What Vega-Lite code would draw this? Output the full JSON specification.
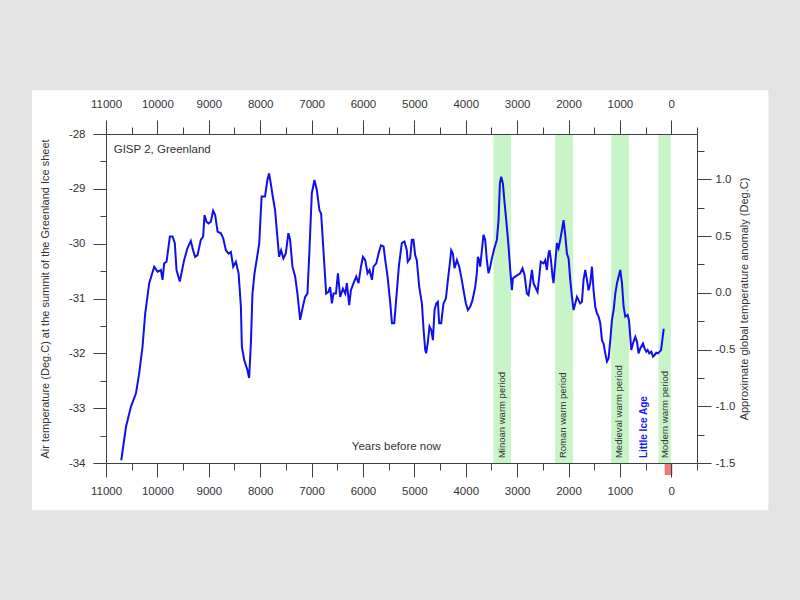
{
  "$schema": "https://vega.github.io/schema/vega-lite/v6.json",
  "width": 591,
  "height": 329,
  "autosize": {"type": "none"},
  "padding": {"left": 106, "top": 134, "right": 103, "bottom": 137},
  "background": "#e3e3e3",
  "config": {
    "view": {"stroke": null},
    "axis": {
      "grid": false,
      "labelFlush": false,
      "labelOverlap": false,
      "domainColor": "#404040",
      "tickColor": "#404040",
      "labelColor": "#333333",
      "labelFont": "Liberation Sans",
      "labelFontSize": 11.5,
      "titleFont": "Liberation Sans",
      "titleFontSize": 11,
      "titleFontWeight": "normal",
      "titleColor": "#333333"
    }
  },
  "datasets": {
    "panel": [{"x0": 12440, "x1": -1890, "y0": -27.2, "y1": -34.86}],
    "periods": [
      {"start": 3460, "end": 3120, "mid": 3290, "label": "Minoan warm period"},
      {"start": 2260, "end": 1910, "mid": 2100, "label": "Roman warm period"},
      {"start": 1170, "end": 820, "mid": 1010, "label": "Medieval warm period"},
      {"start": 250, "end": 10, "mid": 130, "label": "Modern warm period"}
    ],
    "lia": [{"year": 526, "temp": -33.91, "label": "Little Ice Age"}],
    "notes": [
      {"year": 10850, "temp": -28.29, "label": "GISP 2, Greenland", "kind": "left"},
      {"year": 5350, "temp": -33.71, "label": "Years before now", "kind": "center"}
    ],
    "modern": [{"start": 130, "end": -20, "t0": -34, "t1": -34.22}],
    "anomaly": [{"a": -1.5}, {"a": 1.4}],
    "gisp2": [
      {"year": 10703, "temp": -33.95}, {"year": 10611, "temp": -33.34}, {"year": 10514, "temp": -32.97},
      {"year": 10417, "temp": -32.73}, {"year": 10354, "temp": -32.36}, {"year": 10289, "temp": -31.88},
      {"year": 10237, "temp": -31.27}, {"year": 10159, "temp": -30.72}, {"year": 10062, "temp": -30.42},
      {"year": 9997, "temp": -30.51}, {"year": 9932, "temp": -30.48}, {"year": 9900, "temp": -30.66},
      {"year": 9868, "temp": -30.36}, {"year": 9822, "temp": -30.33}, {"year": 9757, "temp": -29.87},
      {"year": 9705, "temp": -29.87}, {"year": 9661, "temp": -29.99}, {"year": 9628, "temp": -30.48},
      {"year": 9564, "temp": -30.69}, {"year": 9480, "temp": -30.30}, {"year": 9414, "temp": -30.08},
      {"year": 9350, "temp": -29.95}, {"year": 9305, "temp": -30.12}, {"year": 9266, "temp": -30.24},
      {"year": 9219, "temp": -30.21}, {"year": 9155, "temp": -29.93}, {"year": 9110, "temp": -29.87},
      {"year": 9083, "temp": -29.48}, {"year": 9044, "temp": -29.60}, {"year": 9005, "temp": -29.63},
      {"year": 8960, "temp": -29.60}, {"year": 8915, "temp": -29.40}, {"year": 8876, "temp": -29.48},
      {"year": 8829, "temp": -29.78}, {"year": 8765, "temp": -29.81}, {"year": 8720, "temp": -29.90},
      {"year": 8667, "temp": -30.12}, {"year": 8615, "temp": -30.18}, {"year": 8570, "temp": -30.15},
      {"year": 8525, "temp": -30.42}, {"year": 8473, "temp": -30.33}, {"year": 8420, "temp": -30.54},
      {"year": 8375, "temp": -31.15}, {"year": 8356, "temp": -31.88}, {"year": 8311, "temp": -32.12},
      {"year": 8250, "temp": -32.30}, {"year": 8215, "temp": -32.45}, {"year": 8180, "temp": -31.80},
      {"year": 8150, "temp": -30.91}, {"year": 8110, "temp": -30.54}, {"year": 8069, "temp": -30.30},
      {"year": 8018, "temp": -29.99}, {"year": 7972, "temp": -29.14}, {"year": 7905, "temp": -29.14},
      {"year": 7860, "temp": -28.84}, {"year": 7827, "temp": -28.72}, {"year": 7794, "temp": -28.90},
      {"year": 7755, "temp": -29.14}, {"year": 7710, "temp": -29.39}, {"year": 7677, "temp": -29.75},
      {"year": 7632, "temp": -30.24}, {"year": 7593, "temp": -30.12}, {"year": 7548, "temp": -30.27},
      {"year": 7502, "temp": -30.18}, {"year": 7451, "temp": -29.81}, {"year": 7417, "temp": -29.93},
      {"year": 7372, "temp": -30.42}, {"year": 7320, "temp": -30.60}, {"year": 7275, "temp": -30.91},
      {"year": 7222, "temp": -31.39}, {"year": 7170, "temp": -31.15}, {"year": 7125, "temp": -30.97},
      {"year": 7080, "temp": -30.91}, {"year": 7041, "temp": -30.12}, {"year": 6995, "temp": -29.08},
      {"year": 6944, "temp": -28.84}, {"year": 6898, "temp": -29.02}, {"year": 6847, "temp": -29.39},
      {"year": 6814, "temp": -29.45}, {"year": 6769, "temp": -30.12}, {"year": 6716, "temp": -30.91},
      {"year": 6671, "temp": -30.88}, {"year": 6638, "temp": -30.79}, {"year": 6605, "temp": -31.09},
      {"year": 6573, "temp": -30.91}, {"year": 6526, "temp": -30.91}, {"year": 6487, "temp": -30.54},
      {"year": 6443, "temp": -30.97}, {"year": 6390, "temp": -30.82}, {"year": 6345, "temp": -30.91},
      {"year": 6313, "temp": -30.72}, {"year": 6268, "temp": -31.12}, {"year": 6235, "temp": -30.85},
      {"year": 6183, "temp": -30.72}, {"year": 6131, "temp": -30.60}, {"year": 6086, "temp": -30.72},
      {"year": 6039, "temp": -30.42}, {"year": 6000, "temp": -30.24}, {"year": 5956, "temp": -30.30},
      {"year": 5911, "temp": -30.54}, {"year": 5872, "temp": -30.48}, {"year": 5825, "temp": -30.66},
      {"year": 5794, "temp": -30.42}, {"year": 5741, "temp": -30.36}, {"year": 5696, "temp": -30.18},
      {"year": 5650, "temp": -30.03}, {"year": 5599, "temp": -30.05}, {"year": 5566, "temp": -30.30},
      {"year": 5521, "temp": -30.60}, {"year": 5468, "temp": -31.09}, {"year": 5436, "temp": -31.45},
      {"year": 5391, "temp": -31.45}, {"year": 5352, "temp": -31.00}, {"year": 5300, "temp": -30.40},
      {"year": 5244, "temp": -29.99}, {"year": 5193, "temp": -29.96}, {"year": 5147, "temp": -30.12},
      {"year": 5128, "temp": -30.33}, {"year": 5082, "temp": -30.27}, {"year": 5049, "temp": -29.93},
      {"year": 5017, "temp": -29.93}, {"year": 4984, "temp": -30.21}, {"year": 4952, "temp": -30.30},
      {"year": 4905, "temp": -30.79}, {"year": 4853, "temp": -31.09}, {"year": 4820, "temp": -31.57},
      {"year": 4788, "temp": -31.94}, {"year": 4770, "temp": -32.00}, {"year": 4737, "temp": -31.79},
      {"year": 4705, "temp": -31.51}, {"year": 4672, "temp": -31.57}, {"year": 4639, "temp": -31.76},
      {"year": 4607, "temp": -31.21}, {"year": 4574, "temp": -31.09}, {"year": 4542, "temp": -31.06},
      {"year": 4517, "temp": -31.45}, {"year": 4478, "temp": -31.45}, {"year": 4433, "temp": -31.09},
      {"year": 4386, "temp": -31.00}, {"year": 4347, "temp": -30.66}, {"year": 4302, "temp": -30.30},
      {"year": 4283, "temp": -30.12}, {"year": 4250, "temp": -30.18}, {"year": 4218, "temp": -30.45},
      {"year": 4172, "temp": -30.30}, {"year": 4127, "temp": -30.42}, {"year": 4088, "temp": -30.60},
      {"year": 4043, "temp": -30.85}, {"year": 3997, "temp": -31.09}, {"year": 3958, "temp": -31.21},
      {"year": 3914, "temp": -31.15}, {"year": 3869, "temp": -31.03}, {"year": 3816, "temp": -30.79},
      {"year": 3784, "temp": -30.54}, {"year": 3764, "temp": -30.24}, {"year": 3739, "temp": -30.30},
      {"year": 3719, "temp": -30.42}, {"year": 3686, "temp": -30.12}, {"year": 3655, "temp": -29.84},
      {"year": 3622, "temp": -29.93}, {"year": 3589, "temp": -30.30}, {"year": 3557, "temp": -30.54},
      {"year": 3524, "temp": -30.42}, {"year": 3492, "temp": -30.27}, {"year": 3441, "temp": -30.08},
      {"year": 3394, "temp": -29.93}, {"year": 3362, "temp": -29.57}, {"year": 3335, "temp": -28.90},
      {"year": 3310, "temp": -28.78}, {"year": 3277, "temp": -28.90}, {"year": 3244, "temp": -29.26},
      {"year": 3212, "temp": -29.57}, {"year": 3167, "temp": -30.05}, {"year": 3134, "temp": -30.48},
      {"year": 3101, "temp": -30.85}, {"year": 3082, "temp": -30.63}, {"year": 3037, "temp": -30.60},
      {"year": 2985, "temp": -30.57}, {"year": 2940, "temp": -30.54}, {"year": 2895, "temp": -30.45},
      {"year": 2856, "temp": -30.57}, {"year": 2810, "temp": -30.91}, {"year": 2778, "temp": -30.94},
      {"year": 2745, "temp": -30.72}, {"year": 2712, "temp": -30.48}, {"year": 2681, "temp": -30.72},
      {"year": 2648, "temp": -30.79}, {"year": 2603, "temp": -30.88}, {"year": 2570, "temp": -30.60},
      {"year": 2540, "temp": -30.33}, {"year": 2486, "temp": -30.36}, {"year": 2453, "temp": -30.30},
      {"year": 2421, "temp": -30.48}, {"year": 2389, "temp": -30.18}, {"year": 2370, "temp": -30.12},
      {"year": 2342, "temp": -30.30}, {"year": 2311, "temp": -30.60}, {"year": 2292, "temp": -30.72},
      {"year": 2259, "temp": -30.36}, {"year": 2226, "temp": -29.99}, {"year": 2194, "temp": -30.08},
      {"year": 2161, "temp": -29.93}, {"year": 2128, "temp": -29.75}, {"year": 2097, "temp": -29.57},
      {"year": 2064, "temp": -29.84}, {"year": 2031, "temp": -30.18}, {"year": 1999, "temp": -30.27},
      {"year": 1966, "temp": -30.66}, {"year": 1933, "temp": -30.97}, {"year": 1902, "temp": -31.21},
      {"year": 1869, "temp": -31.09}, {"year": 1836, "temp": -30.97}, {"year": 1805, "temp": -31.03},
      {"year": 1772, "temp": -31.09}, {"year": 1739, "temp": -31.06}, {"year": 1708, "temp": -30.66},
      {"year": 1674, "temp": -30.48}, {"year": 1641, "temp": -30.66}, {"year": 1610, "temp": -30.85},
      {"year": 1577, "temp": -30.72}, {"year": 1544, "temp": -30.42}, {"year": 1513, "temp": -30.85},
      {"year": 1480, "temp": -31.15}, {"year": 1447, "temp": -31.27}, {"year": 1415, "temp": -31.33},
      {"year": 1382, "temp": -31.45}, {"year": 1349, "temp": -31.76}, {"year": 1318, "temp": -31.82},
      {"year": 1285, "temp": -32.00}, {"year": 1252, "temp": -32.15}, {"year": 1220, "temp": -32.09},
      {"year": 1187, "temp": -31.76}, {"year": 1155, "temp": -31.39}, {"year": 1122, "temp": -31.21},
      {"year": 1090, "temp": -30.91}, {"year": 1057, "temp": -30.72}, {"year": 1025, "temp": -30.60},
      {"year": 993, "temp": -30.48}, {"year": 960, "temp": -30.72}, {"year": 928, "temp": -31.15},
      {"year": 896, "temp": -31.33}, {"year": 851, "temp": -31.30}, {"year": 824, "temp": -31.39},
      {"year": 798, "temp": -31.70}, {"year": 779, "temp": -31.94}, {"year": 746, "temp": -31.82},
      {"year": 701, "temp": -31.70}, {"year": 668, "temp": -31.79}, {"year": 637, "temp": -32.00},
      {"year": 604, "temp": -31.91}, {"year": 551, "temp": -31.82}, {"year": 520, "temp": -31.91},
      {"year": 487, "temp": -31.97}, {"year": 461, "temp": -31.94}, {"year": 428, "temp": -32.00},
      {"year": 389, "temp": -31.97}, {"year": 356, "temp": -32.06}, {"year": 325, "temp": -32.03},
      {"year": 292, "temp": -31.99}, {"year": 259, "temp": -32.00}, {"year": 228, "temp": -31.97},
      {"year": 200, "temp": -31.94}, {"year": 175, "temp": -31.76}, {"year": 150, "temp": -31.57},
      {"year": 130, "temp": -31.57}
    ]
  },
  "layer": [
    {
      "data": {"name": "panel"},
      "mark": {"type": "rect", "color": "white", "clip": false},
      "encoding": {
        "x": {"field": "x0", "type": "quantitative", "axis": null, "scale": {"domain": [-500, 11000], "reverse": true, "nice": false, "zero": false}},
        "x2": {"field": "x1"},
        "y": {"field": "y0", "type": "quantitative", "axis": null, "scale": {"domain": [-34, -28], "nice": false, "zero": false}},
        "y2": {"field": "y1"}
      }
    },
    {
      "data": {"name": "periods"},
      "mark": {"type": "rect", "color": "#c8f5c8"},
      "encoding": {
        "x": {
          "field": "start", "type": "quantitative",
          "scale": {"domain": [-500, 11000], "reverse": true, "nice": false, "zero": false},
          "axis": {
            "orient": "top", "title": null, "zindex": 2,
            "values": [11000, 10500, 10000, 9500, 9000, 8500, 8000, 7500, 7000, 6500, 6000, 5500, 5000, 4500, 4000, 3500, 3000, 2500, 2000, 1500, 1000, 500, 0, -500],
            "tickSize": {"condition": {"test": "datum.value % 1000 === 0", "value": 14}, "value": 7},
            "labelExpr": "datum.value % 1000 === 0 ? '' + datum.value : ''",
            "labelPadding": 11
          }
        },
        "x2": {"field": "end"}
      }
    },
    {
      "data": {"name": "gisp2"},
      "mark": {"type": "line", "color": "#1010ee", "strokeWidth": 2},
      "encoding": {
        "x": {
          "field": "year", "type": "quantitative",
          "scale": {"domain": [-500, 11000], "reverse": true, "nice": false, "zero": false},
          "axis": {
            "orient": "bottom", "title": null, "zindex": 2,
            "values": [11000, 10500, 10000, 9500, 9000, 8500, 8000, 7500, 7000, 6500, 6000, 5500, 5000, 4500, 4000, 3500, 3000, 2500, 2000, 1500, 1000, 500, 0, -500],
            "tickSize": {"condition": {"test": "datum.value % 1000 === 0", "value": 14}, "value": 7},
            "labelExpr": "datum.value % 1000 === 0 ? '' + datum.value : ''",
            "labelPadding": 8
          }
        },
        "y": {
          "field": "temp", "type": "quantitative",
          "scale": {"domain": [-34, -28], "nice": false, "zero": false},
          "axis": {
            "orient": "left", "zindex": 2,
            "title": "Air temperature (Deg.C) at the summit of the Greenland Ice sheet",
            "values": [-34, -33.5, -33, -32.5, -32, -31.5, -31, -30.5, -30, -29.5, -29, -28.5, -28],
            "tickSize": {"condition": {"test": "datum.value % 1 === 0", "value": 13}, "value": 6},
            "labelExpr": "datum.value % 1 === 0 ? '' + datum.value : ''",
            "labelPadding": 8,
            "titlePadding": 18
          }
        }
      }
    },
    {
      "data": {"name": "periods"},
      "mark": {"type": "text", "angle": 270, "align": "left", "baseline": "middle", "font": "Liberation Sans", "fontSize": 9.5, "color": "#333333"},
      "encoding": {
        "x": {"field": "mid", "type": "quantitative", "axis": null, "scale": {"domain": [-500, 11000], "reverse": true, "nice": false, "zero": false}},
        "y": {"datum": -33.91, "type": "quantitative", "axis": null, "scale": {"domain": [-34, -28], "nice": false, "zero": false}},
        "text": {"field": "label"}
      }
    },
    {
      "data": {"name": "lia"},
      "mark": {"type": "text", "angle": 270, "align": "left", "baseline": "middle", "font": "Liberation Sans", "fontSize": 10, "fontWeight": "bold", "color": "#1a1aff"},
      "encoding": {
        "x": {"field": "year", "type": "quantitative", "axis": null, "scale": {"domain": [-500, 11000], "reverse": true, "nice": false, "zero": false}},
        "y": {"field": "temp", "type": "quantitative", "axis": null, "scale": {"domain": [-34, -28], "nice": false, "zero": false}},
        "text": {"field": "label"}
      }
    },
    {
      "data": {"name": "notes"},
      "transform": [{"filter": "datum.kind === 'left'"}],
      "mark": {"type": "text", "align": "left", "baseline": "middle", "font": "Liberation Sans", "fontSize": 11.5, "color": "#333333"},
      "encoding": {
        "x": {"field": "year", "type": "quantitative", "axis": null, "scale": {"domain": [-500, 11000], "reverse": true, "nice": false, "zero": false}},
        "y": {"field": "temp", "type": "quantitative", "axis": null, "scale": {"domain": [-34, -28], "nice": false, "zero": false}},
        "text": {"field": "label"}
      }
    },
    {
      "data": {"name": "notes"},
      "transform": [{"filter": "datum.kind === 'center'"}],
      "mark": {"type": "text", "align": "center", "baseline": "middle", "font": "Liberation Sans", "fontSize": 11.5, "color": "#333333"},
      "encoding": {
        "x": {"field": "year", "type": "quantitative", "axis": null, "scale": {"domain": [-500, 11000], "reverse": true, "nice": false, "zero": false}},
        "y": {"field": "temp", "type": "quantitative", "axis": null, "scale": {"domain": [-34, -28], "nice": false, "zero": false}},
        "text": {"field": "label"}
      }
    },
    {
      "data": {"name": "modern"},
      "mark": {"type": "rect", "color": "#f07878", "clip": false},
      "encoding": {
        "x": {"field": "start", "type": "quantitative", "axis": null, "scale": {"domain": [-500, 11000], "reverse": true, "nice": false, "zero": false}},
        "x2": {"field": "end"},
        "y": {"field": "t0", "type": "quantitative", "axis": null, "scale": {"domain": [-34, -28], "nice": false, "zero": false}},
        "y2": {"field": "t1"}
      }
    },
    {
      "data": {"name": "anomaly"},
      "mark": {"type": "point", "opacity": 0},
      "encoding": {
        "y": {
          "field": "a", "type": "quantitative",
          "scale": {"domain": [-1.5, 1.4], "nice": false, "zero": false},
          "axis": {
            "orient": "right", "zindex": 2,
            "title": "Approximate global temperature anomaly (Deg.C)",
            "titleAngle": 270,
            "values": [-1.5, -1.25, -1, -0.75, -0.5, -0.25, 0, 0.25, 0.5, 0.75, 1, 1.25],
            "tickSize": {"condition": {"test": "datum.value * 2 % 1 === 0", "value": 14}, "value": 7},
            "labelExpr": "datum.value * 2 % 1 === 0 ? replace(format(datum.value, '.1f'), '\u2212', '-') : ''",
            "labelPadding": 4,
            "titlePadding": 15
          }
        }
      }
    }
  ],
  "resolve": {"scale": {"y": "independent"}, "axis": {"x": "independent", "y": "independent"}}
}
